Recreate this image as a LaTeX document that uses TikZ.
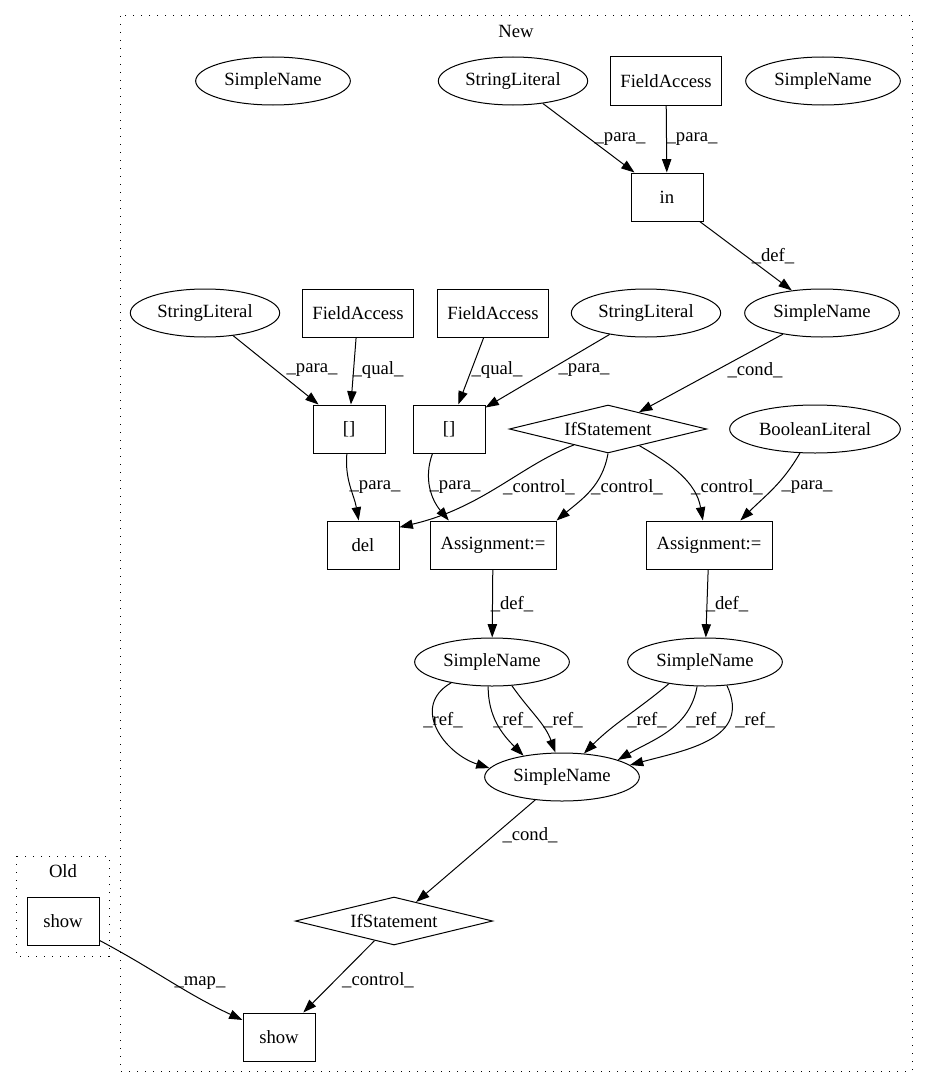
\documentclass[tikz,border=0pt]{standalone}
\usepackage{fontspec}
\setmainfont{Liberation Serif}
\usetikzlibrary{shapes.geometric,arrows.meta}

\begin{document}
\begin{tikzpicture}[x=0.75pt,y=0.75pt]
\tikzset{
  b/.style={rectangle, draw, line width=0.75pt, minimum height=36pt, minimum width=54pt,
            inner sep=0pt, font=\fontsize{14}{16}\selectfont},
  e/.style={ellipse, draw, line width=0.75pt, minimum height=36pt, minimum width=116pt,
            inner sep=0pt, font=\fontsize{14}{16}\selectfont},
  d/.style={diamond, aspect=4, draw, line width=0.75pt, minimum height=36pt, minimum width=148pt,
            inner sep=0pt, font=\fontsize{14}{16}\selectfont},
  l/.style={-{Triangle[length=10pt,width=7pt]}, line width=0.75pt},
  el/.style={font=\fontsize{14}{16}\selectfont, inner sep=0pt},
  cl/.style={line width=0.75pt, dash pattern=on 1pt off 5pt}
}
\useasboundingbox (0,0) rectangle (927,-1088);

% Clusters
\draw[cl] (120,-16) rectangle (912,-1071);
\node[el] (lnew) at (516,-31) {New};
\draw[cl] (16,-856) rectangle (109,-956);
\node[el] (lold) at (63,-871) {Old};

% Row 1
\node[e] (sn1) at (273,-81) {SimpleName};
\node[e, minimum width=112pt] (sl1) at (513,-81) {StringLiteral};
\node[b, minimum width=83pt] (fa1) at (666,-81) {FieldAccess};
\node[e] (sn2) at (823,-81) {SimpleName};
\node[b] (in1) at (667,-197) {in};

% Row 3
\node[e, minimum width=112pt] (sl2) at (205,-313) {StringLiteral};
\node[b, minimum width=83pt] (fa2) at (358,-313) {FieldAccess};
\node[b, minimum width=83pt] (fa3) at (493,-313) {FieldAccess};
\node[e, minimum width=112pt] (sl3) at (646,-313) {StringLiteral};
\node[e] (sn3) at (822,-313) {SimpleName};

% Row 4
\node[b] (br1) at (349,-429) {[]};
\node[b] (br2) at (449,-429) {[]};
\node[d] (if1) at (608,-429) {IfStatement};
\node[e, minimum width=128pt] (bl1) at (815,-429) {BooleanLiteral};

% Row 5
\node[b] (del1) at (363,-545) {del};
\node[b, minimum width=94.5pt] (as1) at (493,-545) {Assignment:=};
\node[b, minimum width=94.5pt] (as2) at (709,-545) {Assignment:=};

% Lower part
\node[e] (sn4) at (492,-662) {SimpleName};
\node[e] (sn5) at (705,-662) {SimpleName};
\node[e] (sn6) at (562,-777) {SimpleName};
\node[d] (if2) at (394,-921) {IfStatement};
\node[b] (show2) at (279,-1037) {show};
\node[b] (show1) at (63,-921) {show};

% Edges, upper part
\draw[l] (sl1) -- (in1) node[el] at (620,-139) {\_para\_};
\draw[l] (fa1) -- (in1) node[el] at (692,-139) {\_para\_};
\draw[l] (in1) -- (sn3) node[el] at (773,-256) {\_def\_};
\draw[l] (sl2) -- (br1) node[el] at (312,-370) {\_para\_};
\draw[l] (fa2) -- (br1) node[el] at (378,-370) {\_qual\_};
\draw[l] (fa3) -- (br2) node[el] at (497,-370) {\_qual\_};
\draw[l] (sl3) -- (br2) node[el] at (584,-370) {\_para\_};
\draw[l] (sn3) -- (if1) node[el] at (755,-370) {\_cond\_};

% Edges into row 5
\draw[l] (br1.-95) to[out=-95,in=100] (del1.100) node[el] at (375,-487) {\_para\_};
\draw[l] (br2.-124) to[out=-110,in=130] (as1.151) node[el] at (455,-487) {\_para\_};
\draw[l] (if1.-155) .. controls (520,-466) and (482,-508) .. (del1.26) node[el] at (539,-487) {\_control\_};
\draw[l] (if1.south) to[out=-100,in=40] (as1.north east) node[el] at (627,-487) {\_control\_};
\draw[l] (if1.-28) to[out=-30,in=100] (as2.104) node[el] at (727,-487) {\_control\_};
\draw[l] (bl1.-122) to[out=-120,in=45] (as2.38) node[el] at (807,-487) {\_para\_};

% Definitions
\draw[l] (as1) -- (sn4) node[el] at (512,-604) {\_def\_};
\draw[l] (as2) -- (sn5) node[el] at (727,-604) {\_def\_};

% References
\draw[l] (sn4.-153) to[out=-150,in=162,looseness=1.3] (sn6.173) node[el] at (443,-720) {\_ref\_};
\draw[l] (sn4.-99) to[out=-90,in=135] (sn6.151) node[el] at (513,-720) {\_ref\_};
\draw[l] (sn4.-50) to[out=-55,in=110] (sn6.105) node[el] at (563,-720) {\_ref\_};
\draw[l] (sn5.-149) to[out=-140,in=45] (sn6.47) node[el] at (647,-720) {\_ref\_};
\draw[l] (sn5.-108) to[out=-100,in=30] (sn6.17) node[el] at (706,-720) {\_ref\_};
\draw[l] (sn5.-47) to[out=-65,in=15,looseness=1.2] (sn6.10) node[el] at (755,-720) {\_ref\_};

% Bottom
\draw[l] (sn6) -- (if2) node[el] at (530,-835) {\_cond\_};
\draw[l] (if2) -- (show2) node[el] at (378,-980) {\_control\_};
\draw[l] (show1) to[out=-28,in=155] (show2) node[el] at (200,-983) {\_map\_};
\end{tikzpicture}
\end{document}
